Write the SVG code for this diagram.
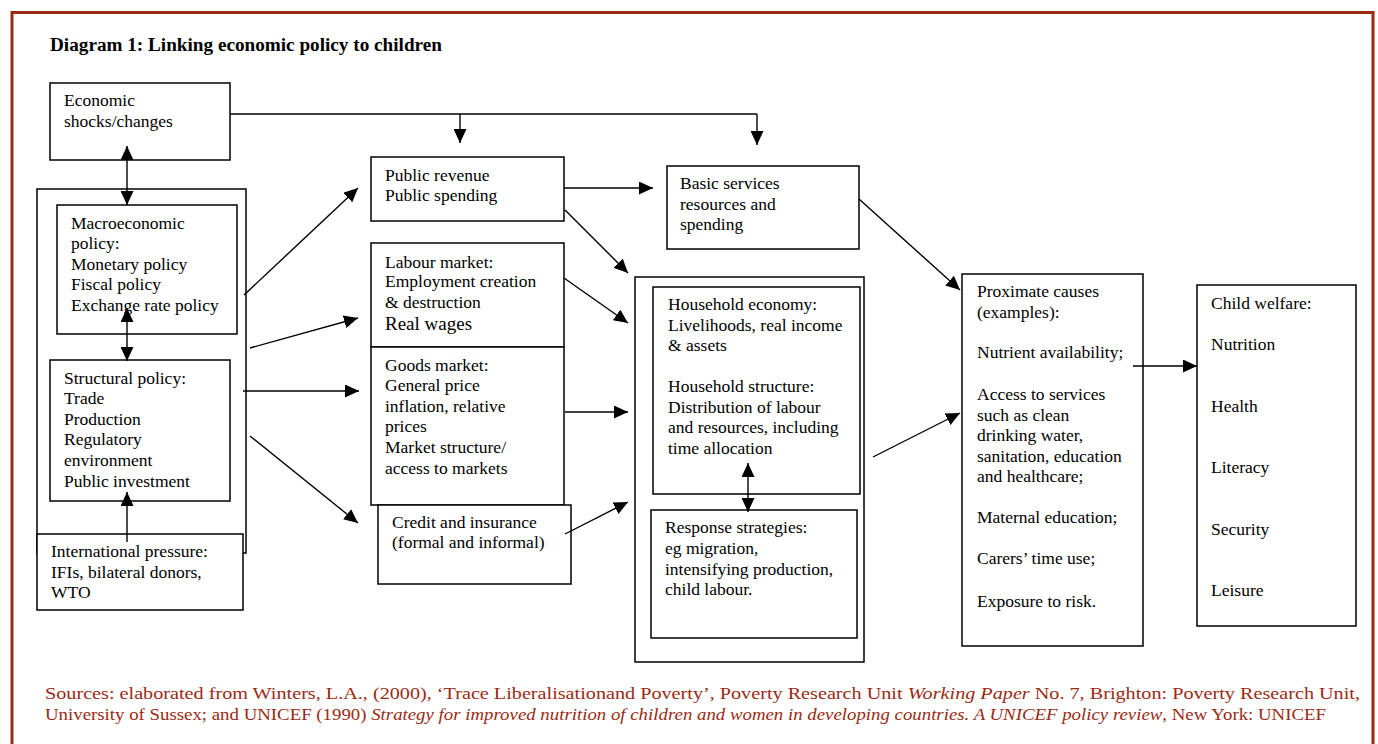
<svg xmlns="http://www.w3.org/2000/svg" width="1378" height="744" viewBox="0 0 1378 744">
<style>
.box{fill:#fff;stroke:#000;stroke-width:1.5}
.t{font-family:"Liberation Serif","Times New Roman",serif;font-size:17.5px;fill:#000}
.title{font-family:"Liberation Serif","Times New Roman",serif;font-size:19.2px;font-weight:bold;fill:#000}
.src{font-family:"Liberation Serif","Times New Roman",serif;font-size:17.5px;fill:#9b2a14}
.c{fill:none;stroke:#000;stroke-width:1.4}
</style>
<defs>
<marker id="ah" markerUnits="userSpaceOnUse" markerWidth="15" markerHeight="13" refX="14" refY="6.5" orient="auto-start-reverse" viewBox="0 0 15 13">
<path d="M0,0 L14,6.5 L0,13 z" fill="#000"/>
</marker>
</defs>
<rect x="0" y="0" width="1378" height="744" fill="#fff"/>
<path d="M12,760 L12,12.5 L1373,12.5 L1373,760" fill="none" stroke="#9b2a14" stroke-width="3"/>
<text class="title" x="50" y="51">Diagram 1: Linking economic policy to children</text>

<g id="shocks"><rect class="box" x="50" y="83" width="180" height="77"/>
<text class="t" x="64" y="106">Economic</text><text class="t" x="64" y="127">shocks/changes</text></g>

<g id="policy-container"><rect class="box" x="37" y="189" width="209" height="364"/></g>

<g id="macro"><rect class="box" x="57" y="205" width="180" height="129"/>
<text class="t" x="71" y="229">Macroeconomic</text><text class="t" x="71" y="249">policy:</text><text class="t" x="71" y="270">Monetary policy</text><text class="t" x="71" y="290">Fiscal policy</text><text class="t" x="71" y="311">Exchange rate policy</text></g>

<g id="structural"><rect class="box" x="50" y="360" width="180" height="141"/>
<text class="t" x="64" y="384">Structural policy:</text><text class="t" x="64" y="404">Trade</text><text class="t" x="64" y="425">Production</text><text class="t" x="64" y="445">Regulatory</text><text class="t" x="64" y="466">environment</text><text class="t" x="64" y="487">Public investment</text></g>

<g id="international"><rect class="box" x="37" y="534" width="206" height="76"/>
<text class="t" x="51" y="557">International pressure:</text><text class="t" x="51" y="578">IFIs, bilateral donors,</text><text class="t" x="51" y="598">WTO</text></g>

<g id="public"><rect class="box" x="371" y="157" width="193" height="64"/>
<text class="t" x="385" y="181">Public revenue</text><text class="t" x="385" y="201">Public spending</text></g>

<g id="labour"><rect class="box" x="371" y="243" width="193" height="104"/>
<text class="t" x="385" y="268">Labour market:</text><text class="t" x="385" y="287">Employment creation</text><text class="t" x="385" y="308">&amp; destruction</text><text class="t" x="385" y="330" style="font-size:19px">Real wages</text></g>

<g id="goods"><rect class="box" x="371" y="347" width="193" height="158"/>
<text class="t" x="385" y="371">Goods market:</text><text class="t" x="385" y="391">General price</text><text class="t" x="385" y="412">inflation, relative</text><text class="t" x="385" y="432">prices</text><text class="t" x="385" y="453">Market structure/</text><text class="t" x="385" y="474">access to markets</text></g>

<g id="credit"><rect class="box" x="378" y="505" width="193" height="79"/>
<text class="t" x="392" y="528">Credit and insurance</text><text class="t" x="392" y="548">(formal and informal)</text></g>

<g id="basic"><rect class="box" x="667" y="166" width="192" height="83"/>
<text class="t" x="680" y="189">Basic services</text><text class="t" x="680" y="210">resources and</text><text class="t" x="680" y="230">spending</text></g>

<g id="household"><rect class="box" x="635" y="277" width="229" height="385"/></g>

<g id="household-economy"><rect class="box" x="653" y="287" width="207" height="207"/>
<text class="t" x="668" y="310">Household economy:</text><text class="t" x="668" y="331">Livelihoods, real income</text><text class="t" x="668" y="351">&amp; assets</text><text class="t" x="668" y="392">Household structure:</text><text class="t" x="668" y="413">Distribution of labour</text><text class="t" x="668" y="433">and resources, including</text><text class="t" x="668" y="454">time allocation</text></g>

<g id="response"><rect class="box" x="651" y="510" width="206" height="128"/>
<text class="t" x="665" y="533">Response strategies:</text><text class="t" x="665" y="554">eg migration,</text><text class="t" x="665" y="575">intensifying production,</text><text class="t" x="665" y="595">child labour.</text></g>

<g id="proximate"><rect class="box" x="962" y="274" width="181" height="372"/>
<text class="t" x="977" y="297">Proximate causes</text><text class="t" x="977" y="318">(examples):</text><text class="t" x="977" y="358">Nutrient availability;</text><text class="t" x="977" y="400">Access to services</text><text class="t" x="977" y="421">such as clean</text><text class="t" x="977" y="441">drinking water,</text><text class="t" x="977" y="462">sanitation, education</text><text class="t" x="977" y="482">and healthcare;</text><text class="t" x="977" y="523">Maternal education;</text><text class="t" x="977" y="564">Carers’ time use;</text><text class="t" x="977" y="607">Exposure to risk.</text></g>

<g id="child"><rect class="box" x="1197" y="285" width="159" height="341"/>
<text class="t" x="1211" y="309">Child welfare:</text><text class="t" x="1211" y="350">Nutrition</text><text class="t" x="1211" y="412">Health</text><text class="t" x="1211" y="473">Literacy</text><text class="t" x="1211" y="535">Security</text><text class="t" x="1211" y="596">Leisure</text></g>

<g id="connectors">
<path class="c" d="M230,114 L757,114"/>
<path class="c" d="M460,114 L460,143" marker-end="url(#ah)"/>
<path class="c" d="M757,114 L757,145" marker-end="url(#ah)"/>
<path class="c" d="M127,146 L127,205" marker-start="url(#ah)" marker-end="url(#ah)"/>
<path class="c" d="M127,308 L127,361" marker-start="url(#ah)" marker-end="url(#ah)"/>
<path class="c" d="M127,542 L127,492" marker-end="url(#ah)"/>
<path class="c" d="M244,295 L358,188" marker-end="url(#ah)"/>
<path class="c" d="M250,348 L358,318" marker-end="url(#ah)"/>
<path class="c" d="M243,391 L359,391" marker-end="url(#ah)"/>
<path class="c" d="M250,436 L358,523" marker-end="url(#ah)"/>
<path class="c" d="M564,188 L653,188" marker-end="url(#ah)"/>
<path class="c" d="M565,210 L628,273" marker-end="url(#ah)"/>
<path class="c" d="M564,278 L628,323" marker-end="url(#ah)"/>
<path class="c" d="M565,412 L628,412" marker-end="url(#ah)"/>
<path class="c" d="M565,534 L628,502" marker-end="url(#ah)"/>
<path class="c" d="M748,463 L748,512" marker-start="url(#ah)" marker-end="url(#ah)"/>
<path class="c" d="M859,199 L960,290" marker-end="url(#ah)"/>
<path class="c" d="M873,457 L960,413" marker-end="url(#ah)"/>
<path class="c" d="M1133,366 L1197,366" marker-end="url(#ah)"/>
</g>

<text class="src" x="45" y="699" textLength="1315" lengthAdjust="spacingAndGlyphs">Sources: elaborated from Winters, L.A., (2000), ‘Trace Liberalisationand Poverty’, Poverty Research Unit <tspan font-style="italic">Working Paper</tspan> No. 7, Brighton: Poverty Research Unit,</text>
<text class="src" x="45" y="720" textLength="1281" lengthAdjust="spacingAndGlyphs">University of Sussex; and UNICEF (1990) <tspan font-style="italic">Strategy for improved nutrition of children and women in developing countries. A UNICEF policy review</tspan>, New York: UNICEF</text>
</svg>
